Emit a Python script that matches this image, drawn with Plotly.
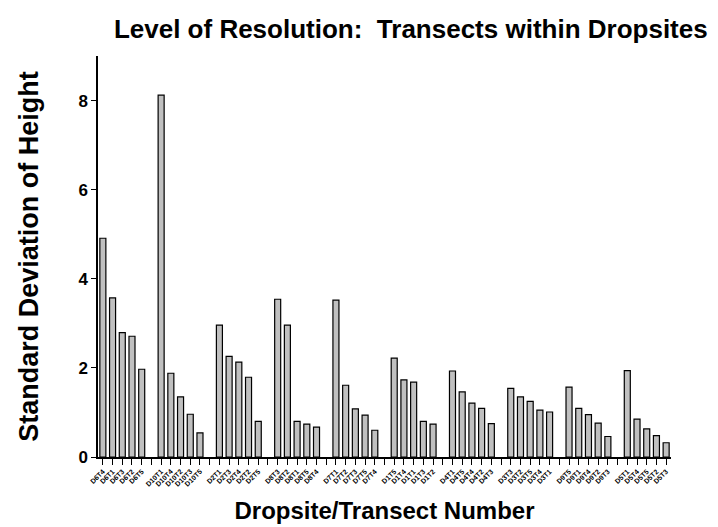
import plotly.graph_objects as go

groups = [
    ["D6T4", "D6T1", "D6T3", "D6T2", "D6T5"],
    ["D10T1", "D10T4", "D10T2", "D10T3", "D10T5"],
    ["D2T1", "D2T3", "D2T4", "D2T2", "D2T5"],
    ["D8T3", "D8T2", "D8T1", "D8T5", "D8T4"],
    ["D7T1", "D7T2", "D7T3", "D7T5", "D7T4"],
    ["D1T5", "D1T4", "D1T1", "D1T3", "D1T2"],
    ["D4T1", "D4T5", "D4T4", "D4T2", "D4T3"],
    ["D3T3", "D3T2", "D3T5", "D3T4", "D3T1"],
    ["D9T5", "D9T1", "D9T4", "D9T2", "D9T3"],
    ["D5T1", "D5T4", "D5T5", "D5T2", "D5T3"],
]
values = [
    [4.91, 3.57, 2.79, 2.71, 1.97],
    [8.12, 1.88, 1.35, 0.96, 0.54],
    [2.96, 2.26, 2.13, 1.79, 0.80],
    [3.54, 2.96, 0.80, 0.74, 0.67],
    [3.52, 1.61, 1.08, 0.94, 0.60],
    [2.22, 1.73, 1.68, 0.80, 0.74],
    [1.93, 1.46, 1.21, 1.09, 0.75],
    [1.54, 1.35, 1.25, 1.05, 1.01],
    [1.57, 1.09, 0.95, 0.76, 0.46],
    [1.94, 0.85, 0.63, 0.48, 0.32],
]
y_ticks = [0, 2, 4, 6, 8]

xs, ys, names = [], [], []
tickvals, ticktext = [], []
pos = 0
for gi, (labs, vals) in enumerate(zip(groups, values)):
    for lab, v in zip(labs, vals):
        xs.append(pos); ys.append(v); names.append(lab)
        tickvals.append(pos); ticktext.append(lab)
        pos += 1
    if gi < len(groups) - 1:
        tickvals.append(pos); ticktext.append("")
        pos += 1

fig = go.Figure(go.Bar(
    x=xs, y=ys, width=0.62,
    marker=dict(color="#c0c0c0", line=dict(color="black", width=1.2)),
    hovertext=names,
))

bold = dict(family="Liberation Sans, Arial, sans-serif", weight="bold", color="black")

fig.update_layout(
    width=718, height=527,
    margin=dict(l=90, r=55, t=48, b=78),
    paper_bgcolor="white", plot_bgcolor="white",
    showlegend=False,
    title=dict(text="Level of Resolution:  Transects within Dropsites",
               x=0.561, xref="container", xanchor="center",
               y=0.96, yref="container", yanchor="middle",
               font=dict(size=26, **bold)),
    xaxis=dict(
        range=[-0.5, pos - 0.5],
        tickmode="array", tickvals=tickvals, ticktext=ticktext,
        tickangle=-45, tickfont=dict(size=7, **bold),
        ticks="outside", ticklen=6, tickwidth=1, tickcolor="black",
        showline=True, linecolor="black", linewidth=1.5,
        showgrid=False, zeroline=False,
        title=dict(text="Dropsite/Transect Number", font=dict(size=24, **bold), standoff=16),
    ),
    yaxis=dict(
        range=[0, 9],
        tickmode="array", tickvals=y_ticks,
        tickfont=dict(size=17, **bold),
        ticks="outside", ticklen=5, tickwidth=1, tickcolor="black",
        showline=True, linecolor="black", linewidth=1.5,
        showgrid=False, zeroline=False,
        title=dict(text="Standard Deviation of Height", font=dict(size=27, **bold), standoff=32),
    ),
)

fig.write_html("out.html")
